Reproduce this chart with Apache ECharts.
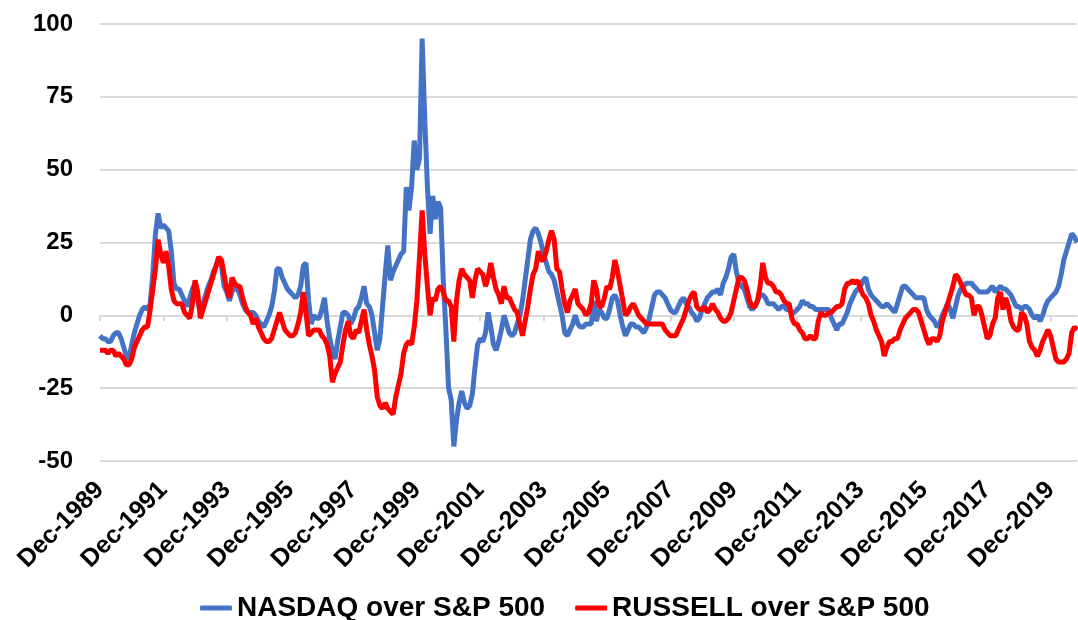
<!DOCTYPE html>
<html>
<head>
<meta charset="utf-8">
<script src="https://cdn.jsdelivr.net/npm/echarts@6/dist/echarts.min.js"></script>
<style>
  html, body { margin: 0; padding: 0; background: #fff; }
  #chart { width: 1078px; height: 620px; }
</style>
</head>
<body>
<div id="chart"></div>
<script>
// monthly values, Dec-1989 onwards
var nasdaq = [
  -7, -8, -8, -9, -9, -7, -6, -6, -8, -11,
  -14, -15, -10, -6, -3, 0, 2, 3, 2, 4,
  14, 28, 35, 30, 31, 30, 29, 22, 11, 9,
  9, 7, 5, 3, 6, 9, 11, 5, 1, 4,
  7, 10, 12, 15, 17, 20, 17, 10, 8, 5,
  8, 10, 9, 7, 4, 2, 1, 1, 1, 0,
  -2, -3, -4, -2, 0, 3, 8, 16, 16, 13,
  11, 9, 8, 7, 6, 7, 10, 17, 18, 5,
  -3, 0, -1, -1, 2, 6, -2, -8, -12, -15,
  -9, -4, 1, 1, 0, -3, -1, 2, 3, 6,
  10, 4, 3, 0, -6, -12, -8, 3, 14, 24,
  12, 15, 17, 19, 21, 22, 44, 36, 44, 60,
  50, 54, 95, 67, 44, 28, 41, 33, 39, 37,
  12, -5, -25, -29, -45, -36, -30, -26, -30, -32,
  -31, -27, -18, -10, -8, -9, -6, 1, -4, -10,
  -12, -9, -5, 0, -3, -6, -7, -6, -3, 0,
  5, 12, 19, 26, 29, 30, 28, 25, 21, 18,
  15, 14, 12, 8, 4, 0, -6, -7, -5, -3,
  0, -3, -4, -4, -3, -3, -3, 5, -2, 2,
  1, -1, -1, 2, 6, 7, 5, 0, -4, -7,
  -5, -3, -3, -4, -4, -5, -6, -4, -1, 3,
  7, 8, 8, 7, 6, 4, 2, 1, 1, 3,
  5, 6, 4, 3, 1, 0, -2, -1, 2, 4,
  6, 7, 8, 8, 9, 7, 11, 13, 16, 20,
  21, 15, 11, 10, 9, 6, 3, 2, 3, 5,
  7, 7, 6, 4, 4, 4, 3, 2, 3, 3,
  2, 2, 1, 1, 2, 3, 5, 4, 4, 3,
  3, 2, 2, 2, 2, 2, 2, -1, -3, -5,
  -3, -3, -1, 1, 4, 6, 8, 9, 10, 12,
  13, 9, 7, 6, 5, 4, 3, 3, 4, 3,
  2, 1, 4, 7, 10, 10, 9, 8, 7, 6,
  6, 6, 6, 2, 0, -1, -2, -4, -3, 0,
  2, 4, 2, -1, 3, 7, 9, 10, 11, 11,
  11, 10, 9, 8, 8, 8, 8, 9, 10, 8,
  9, 10, 9, 9, 8, 7, 5, 3, 3, 2,
  3, 3, 2, 0, -1, 0, -2, 0, 3, 5,
  6, 7, 8, 10, 14, 19, 22, 25, 28, 27, 25
];

var russell = [
  -12, -12, -12, -13, -12, -12, -14, -13, -14, -15,
  -17, -17, -15, -11, -9, -7, -5, -4, -4, 2,
  9, 16, 26, 21, 18, 22, 17, 9, 5, 4,
  4, 4, 1, 0, -1, 4, 12, 8, -1, 2,
  5, 8, 11, 14, 17, 20, 19, 14, 9, 6,
  13, 11, 10, 10, 6, 3, 1, 0, -3, -1,
  -4, -6, -8, -9, -9, -8, -5, -2, 1, -2,
  -5, -6, -7, -7, -6, -3, 1, 8, 1, -7,
  -6, -5, -5, -5, -7, -8, -10, -14, -23, -20,
  -18, -16, -10, -5, -2, -7, -8, -5, -6, -2,
  2, -5, -10, -14, -19, -28, -31, -32, -30, -32,
  -33, -34, -28, -24, -20, -13, -10, -9, -10, -4,
  5, 20, 36, 21, 10, 0, 6, 5, 9, 10,
  8, 5, 5, 3, -9, 5, 12, 16, 14, 13,
  12, 6, 12, 16, 15, 14, 10, 13, 18, 13,
  9, 7, 4, 10, 6, 6, 4, 2, 1, -3,
  -7, -2, 3, 9, 14, 16, 22, 19, 19, 22,
  26, 29, 26, 16, 15, 9, 4, 1, 5, 7,
  9, 4, 3, 2, 0, 1, 4, 12, 9, 3,
  3, 6, 10, 9, 13, 19, 15, 10, 5, 0,
  1, 3, 4, 2, 0, -1, -2, -3, -3, -3,
  -3, -3, -3, -3, -5, -6, -7, -7, -7, -5,
  -3, -1, 2, 5, 7, 8, 3, 2, 2, 3,
  1, 2, 4, 2, 1, -1, -2, -2, -1, 1,
  5, 9, 13, 13, 12, 9, 5, 3, 3, 5,
  10, 18, 13, 11, 11, 10, 8, 8, 7, 5,
  4, 4, -1, -3, -3, -5, -6, -8, -8, -7,
  -8, -8, -2, 1, 0, 0, 1, 1, 2, 3,
  3, 4, 9, 11, 11, 12, 11, 12, 9, 7,
  6, 4, 0, -2, -5, -7, -9, -14, -11, -9,
  -9, -8, -8, -5, -3, -1, 0, 1, 2, 2,
  1, -2, -5, -8, -10, -8, -8, -9, -7, -2,
  1, 4, 7, 10, 14, 13, 11, 9, 7, 7,
  6, 0, 3, 3, 0, -4, -8, -7, -3, -1,
  6, 8, 2, 6, 3, -2, -4, -5, -5, 1,
  0, -3, -9, -11, -12, -14, -12, -9, -7, -5,
  -7, -11, -15, -16, -16, -16, -15, -13, -6, -4, -5
];

var monthNames = ['Jan', 'Feb', 'Mar', 'Apr', 'May', 'Jun', 'Jul', 'Aug', 'Sep', 'Oct', 'Nov', 'Dec'];
var startYear = 1989, startMonth = 11; // Dec-1989
var yTicks = { min: -50, max: 100, step: 25 };
var seriesNames = ['NASDAQ over S&P 500', 'RUSSELL over S&P 500'];

var months = [];
for (var i = 0; i < nasdaq.length; i++) {
  var m = startMonth + i;
  months.push(monthNames[m % 12] + '-' + (startYear + Math.floor(m / 12)));
}

var FONT = '"Liberation Sans", Arial, sans-serif';
var chart = echarts.init(document.getElementById('chart'));
chart.setOption({
  animation: false,
  backgroundColor: '#fff',
  grid: { left: 100, right: 1, top: 24, bottom: 159 },
  legend: {
    top: 589,
    left: 195,
    icon: 'roundRect',
    itemWidth: 32,
    itemHeight: 5,
    itemGap: 30,
    textStyle: { fontFamily: FONT, fontWeight: 'bold', fontSize: 28, color: '#000' },
    data: seriesNames
  },
  xAxis: [
    {
      type: 'category',
      data: months,
      boundaryGap: false,
      axisLine: { show: false, onZero: false },
      axisTick: { show: false },
      axisLabel: {
        interval: 23,
        rotate: 45,
        margin: 25,
        fontFamily: FONT,
        fontWeight: 'bold',
        fontSize: 25,
        color: '#000'
      }
    },
    {
      type: 'category',
      data: months,
      position: 'bottom',
      boundaryGap: false,
      axisLine: { show: true, onZero: true, lineStyle: { color: '#d9d9d9', width: 2 } },
      axisTick: { show: true, interval: 23, length: 6, lineStyle: { color: '#d9d9d9', width: 2 } },
      axisLabel: { show: false }
    }
  ],
  yAxis: {
    type: 'value',
    min: yTicks.min,
    max: yTicks.max,
    interval: yTicks.step,
    axisLine: { show: false },
    axisTick: { show: false },
    splitLine: { lineStyle: { color: '#d9d9d9', width: 2 } },
    axisLabel: {
      margin: 27,
      fontFamily: FONT,
      fontWeight: 'bold',
      fontSize: 24,
      color: '#000'
    }
  },
  series: [
    {
      name: seriesNames[0],
      type: 'line',
      data: nasdaq,
      showSymbol: false,
      lineStyle: { color: '#4472C4', width: 5 },
      itemStyle: { color: '#4472C4' }
    },
    {
      name: seriesNames[1],
      type: 'line',
      data: russell,
      showSymbol: false,
      lineStyle: { color: '#FF0000', width: 5 },
      itemStyle: { color: '#FF0000' }
    }
  ]
});
</script>
</body>
</html>
